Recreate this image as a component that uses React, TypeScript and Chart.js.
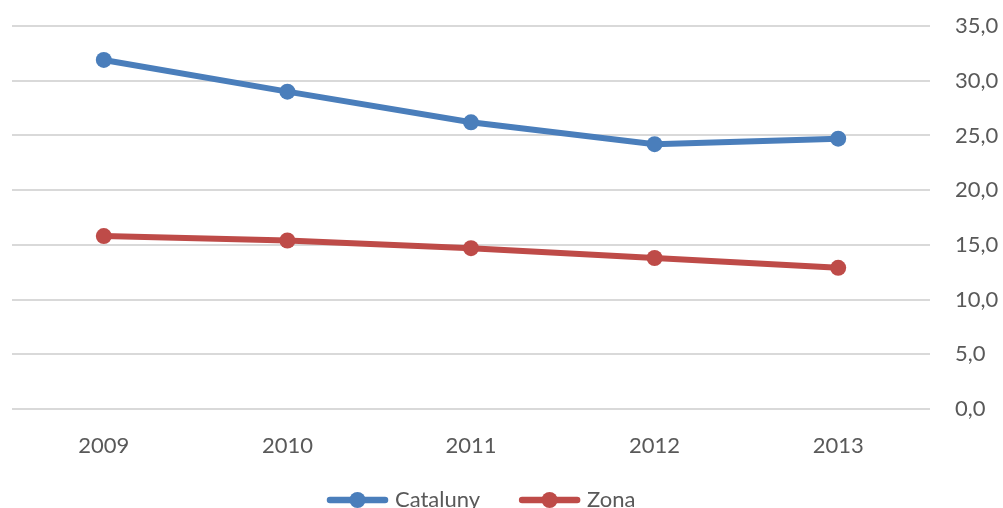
import React, { useEffect, useRef } from "react";
import { Chart, registerables } from "chart.js";

Chart.register(...registerables);

const categories = ["2009", "2010", "2011", "2012", "2013"];
const seriesNames = ["Cataluny", "Zona"];
const catalunya = [31.9, 29.0, 26.2, 24.2, 24.7];
const zona = [15.8, 15.4, 14.7, 13.8, 12.9];
const colors = ["#4A7EBB", "#BE4B48"];

const FONT = "Lato, 'Open Sans', sans-serif";
const TEXT = "#595959";

const legendPlugin = {
  id: "lineLegend",
  afterDraw(chart: any) {
    const ctx = chart.ctx;
    const items = chart.data.datasets;
    ctx.save();
    ctx.font = `22px ${FONT}`;
    const lineW = 61;
    const gap = 7;
    const itemGap = 39;
    let x = 327;
    const y = 500;
    items.forEach((d: any) => {
      ctx.strokeStyle = d.borderColor;
      ctx.lineWidth = 6.5;
      ctx.lineCap = "round";
      ctx.beginPath();
      ctx.moveTo(x + 3, y);
      ctx.lineTo(x + lineW - 3, y);
      ctx.stroke();
      ctx.fillStyle = d.borderColor;
      ctx.beginPath();
      ctx.arc(x + lineW / 2, y, 8, 0, Math.PI * 2);
      ctx.fill();
      ctx.fillStyle = TEXT;
      ctx.textBaseline = "middle";
      ctx.textAlign = "left";
      ctx.fillText(d.label, x + lineW + gap, y);
      x += lineW + gap + ctx.measureText(d.label).width + itemGap;
    });
    ctx.restore();
  },
};

export default function App() {
  const ref = useRef<HTMLCanvasElement | null>(null);
  useEffect(() => {
    if (!ref.current) return;
    const chart = new Chart(ref.current, {
      type: "line",
      data: {
        labels: categories,
        datasets: [catalunya, zona].map((vals, i) => ({
          label: seriesNames[i],
          data: vals,
          borderColor: colors[i],
          backgroundColor: colors[i],
          borderWidth: 6,
          pointRadius: 8,
          pointHoverRadius: 8,
          pointBorderWidth: 0,
          tension: 0,
        })),
      },
      options: {
        animation: false,
        responsive: false,
        maintainAspectRatio: false,
        layout: { padding: { left: 12, top: 26, right: 0, bottom: 39 } },
        plugins: {
          legend: { display: false },
          title: { display: false },
          tooltip: { enabled: false },
        },
        scales: {
          x: {
            offset: true,
            grid: { display: false, drawTicks: false },
            border: { display: false },
            ticks: { color: TEXT, font: { family: FONT, size: 22 }, padding: 24 },
            afterFit(scale: any) {
              scale.height = 60;
              scale.paddingLeft = 0;
              scale.paddingRight = 0;
            },
          },
          y: {
            position: "right",
            min: 0,
            max: 35,
            ticks: {
              stepSize: 5,
              color: TEXT,
              font: { family: FONT, size: 22 },
              padding: 25,
              callback: (v: any) => Number(v).toFixed(1).replace(".", ","),
            },
            grid: { color: "#D9D9D9", lineWidth: 2, drawTicks: false },
            border: { display: false },
            afterFit(scale: any) {
              scale.width = 73;
              scale.paddingTop = 0;
              scale.paddingBottom = 0;
            },
          },
        },
      },
      plugins: [legendPlugin],
    });
    return () => chart.destroy();
  }, []);
  return (
    <div style={{ position: "fixed", left: 0, top: 0, width: 1003, height: 508, background: "#fff" }}>
      <canvas ref={ref} width={1003} height={508} />
    </div>
  );
}
